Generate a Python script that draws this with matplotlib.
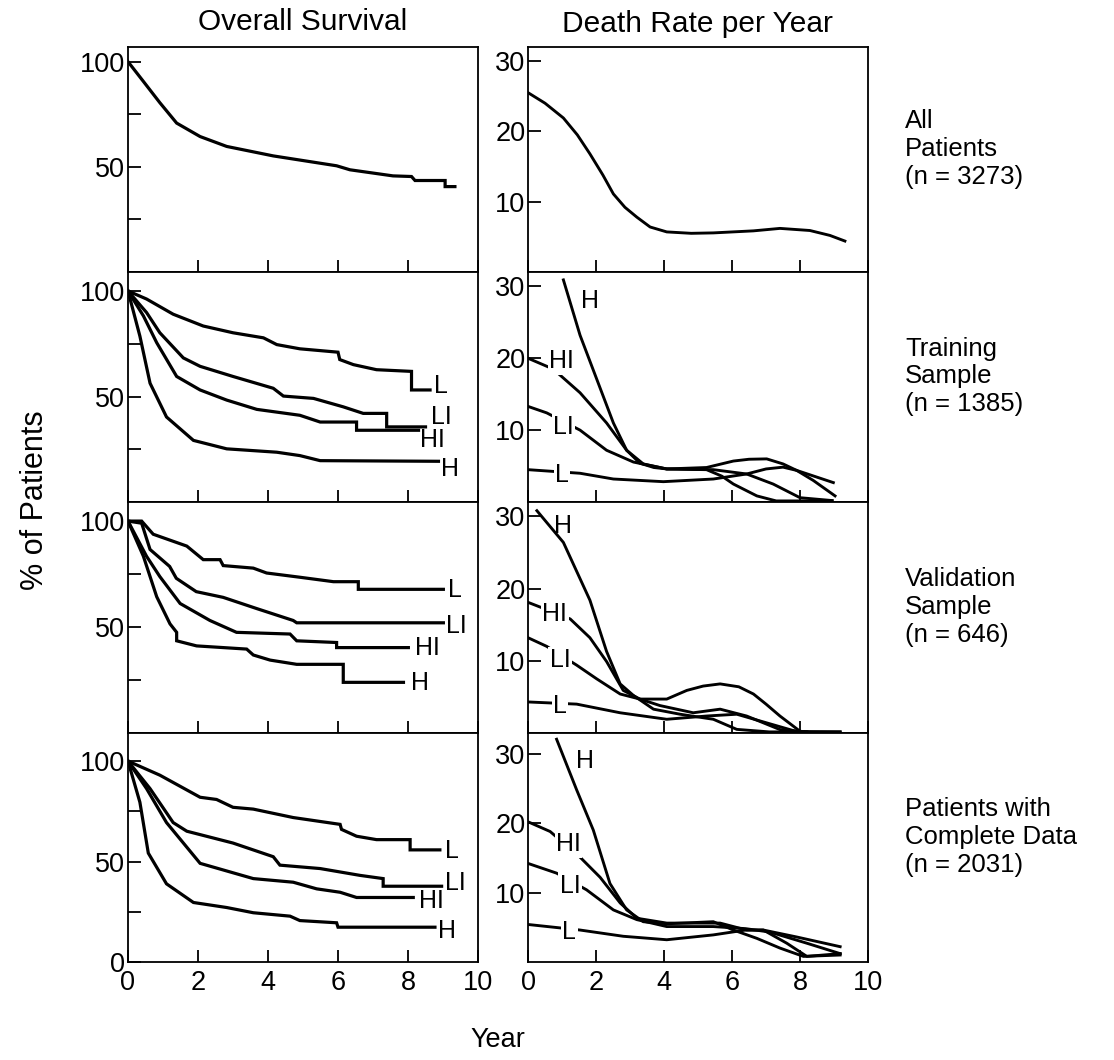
import numpy as np
import matplotlib
matplotlib.use("Agg")
import matplotlib.pyplot as plt

plt.rcParams['font.family'] = ['Liberation Sans', 'DejaVu Sans']

# ---- overall survival (% of patients) : (year, %) ----
all_os = [(0, 100), (0.44, 90.6), (0.91, 80.5), (1.39, 70.8), (2.06, 64.4), (2.82, 59.7),
          (4.15, 55.2), (5.96, 50.5), (6.34, 48.6), (7.57, 45.7), (8.1, 45.4), (8.2, 43.5),
          (9.06, 43.5), (9.06, 40.6), (9.34, 40.6)]

tr_os_L = [(0, 100), (0.53, 96.2), (1.29, 89), (2.15, 83.4), (3.0, 80.2), (3.87, 77.8),
           (4.25, 74.6), (4.91, 72.6), (6.0, 71), (6.05, 67.5), (6.44, 65.1), (7.1, 62.7),
           (8.1, 61.9), (8.1, 53.1), (8.63, 53.1)]
tr_os_LI = [(0, 100), (0.53, 89.8), (0.91, 80.2), (1.58, 68.3), (2.06, 64.3), (3.0, 59.5),
            (4.15, 53.9), (4.44, 50.2), (5.3, 49.1), (6.15, 45.1), (6.72, 42), (7.39, 42),
            (7.39, 35.6), (8.5, 35.6)]
tr_os_HI = [(0, 100), (0.44, 88.2), (0.82, 75.5), (1.39, 59.5), (2.06, 53.1), (2.82, 48.3),
            (3.68, 43.9), (4.91, 41.1), (5.49, 37.9), (6.53, 37.9), (6.53, 34), (8.3, 34)]
tr_os_H = [(0, 100), (0.34, 78.6), (0.63, 56.3), (1.1, 40.3), (1.87, 29.2), (2.82, 25.2),
           (4.25, 23.6), (4.91, 22), (5.49, 19.6), (8.87, 19.3)]

va_os_L = [(0, 100), (0.39, 100), (0.72, 93.8), (1.68, 88.2), (2.15, 81.8), (2.63, 81.8),
           (2.72, 79), (3.58, 77.8), (3.96, 75.5), (4.91, 73.5), (5.87, 71.4), (6.58, 71.4),
           (6.58, 67.8), (9.01, 67.8)]
va_os_LI = [(0, 100), (0.39, 99), (0.63, 86.6), (1.19, 78.6), (1.38, 73), (1.95, 66.7),
            (2.72, 64), (3.68, 58.7), (4.72, 53.1), (4.82, 52), (9.01, 52)]
va_os_HI = [(0, 100), (0.53, 83.4), (0.91, 73.8), (1.49, 61.1), (2.34, 53.1), (3.1, 47.5),
            (4.63, 46.7), (4.82, 43.5), (5.96, 42.7), (5.96, 40.3), (8.01, 40.3)]
va_os_H = [(0, 100), (0.44, 83.4), (0.82, 64.3), (1.2, 51.5), (1.39, 47.5), (1.39, 43.5),
           (1.96, 41.1), (3.39, 39.6), (3.58, 36.8), (4.06, 34.4), (4.82, 32.4), (6.15, 32.4),
           (6.15, 23.9), (7.87, 23.9)]

cd_os_L = [(0, 100), (0.91, 93), (2.06, 82), (2.53, 80.9), (3.0, 77), (3.58, 76.1),
           (4.72, 71.9), (6.06, 68.5), (6.1, 66), (6.53, 62.6), (7.1, 60.9), (8.06, 60.9),
           (8.06, 55.8), (8.91, 55.8)]
cd_os_LI = [(0, 100), (0.63, 86.3), (1.29, 69.4), (1.68, 65.1), (3.0, 59.2), (4.15, 52.4),
            (4.34, 48.2), (5.49, 46.5), (6.63, 43.1), (7.29, 41.5), (7.29, 37.7), (8.96, 37.7)]
cd_os_HI = [(0, 100), (0.53, 86.3), (1.1, 69.4), (2.06, 49.1), (3.58, 41.5), (4.72, 39.7),
            (5.39, 36.4), (6.06, 34.7), (6.53, 32.1), (8.15, 32.1)]
cd_os_H = [(0, 100), (0.34, 79.5), (0.58, 54.2), (1.1, 38.9), (1.87, 29.6), (2.82, 27.1),
           (3.58, 24.5), (4.63, 22.8), (4.91, 20.6), (5.96, 19.5), (6.0, 17.3), (8.77, 17.3)]

# ---- death rate per year : (year, rate) ----
all_dr = [(0, 25.5), (0.5, 24.0), (1.04, 21.9), (1.45, 19.5), (1.82, 16.8), (2.2, 13.8),
          (2.51, 11.1), (2.85, 9.2), (3.2, 7.8), (3.59, 6.4), (4.08, 5.7), (4.8, 5.5),
          (5.45, 5.56), (6.63, 5.85), (7.41, 6.2), (8.29, 5.9), (8.88, 5.2), (9.32, 4.4)]

tr_dr_H = [(1.04, 30.9), (1.53, 23.2), (2.02, 17.1), (2.51, 11), (2.9, 7.2), (3.29, 5.4),
           (3.7, 4.8), (4.08, 4.6), (5.25, 4.5), (5.7, 3.6), (6.04, 2.5), (6.73, 0.85),
           (7.3, 0.15), (8.93, 0.15)]
tr_dr_HI = [(0, 20.0), (0.74, 18.5), (1.53, 15.2), (2.31, 11.0), (2.9, 7.2), (3.39, 5.3),
            (4.08, 4.6), (5.25, 4.8), (6.04, 5.7), (6.5, 5.95), (7.02, 6.0), (7.5, 5.3),
            (7.9, 4.4), (8.98, 2.7)]
tr_dr_LI = [(0, 13.3), (0.55, 12.4), (1.53, 10.0), (2.31, 7.2), (3.1, 5.56), (4.08, 4.6),
            (5.45, 4.5), (6.43, 3.9), (7.21, 2.5), (8.0, 0.6), (8.95, 0.2)]
tr_dr_L = [(0, 4.5), (1.53, 4.0), (2.51, 3.2), (3.98, 2.83), (5.45, 3.2), (6.43, 3.9),
           (7.0, 4.6), (7.5, 4.85), (7.9, 4.4), (8.39, 3.0), (9.03, 0.85)]

va_dr_H = [(0.26, 30.8), (1.04, 26.4), (1.82, 18.4), (2.31, 11.3), (2.71, 6.8), (3.1, 5.2),
           (3.69, 3.3), (4.47, 2.6), (5.45, 1.9), (6.14, 0.5), (7.1, 0.15), (9.18, 0.15)]
va_dr_HI = [(0, 18.1), (0.6, 17.0), (1.24, 15.8), (1.82, 13.2), (2.31, 9.9), (2.8, 5.9),
            (3.29, 4.7), (4.08, 4.7), (4.67, 5.9), (5.15, 6.5), (5.65, 6.8), (6.2, 6.4),
            (6.63, 5.4), (7.0, 4.0), (7.41, 2.35), (8.0, 0.24), (8.2, 0.15)]
va_dr_LI = [(0, 13.2), (0.55, 12.0), (1.43, 9.4), (2.02, 7.5), (2.71, 5.4), (3.29, 4.7),
            (3.88, 3.8), (4.86, 2.8), (5.65, 3.3), (6.43, 2.35), (7.41, 0.47), (8.2, 0.15)]
va_dr_L = [(0, 4.3), (1.43, 4.0), (2.71, 2.8), (4.08, 1.9), (5.25, 2.35), (6.14, 2.6),
           (7.02, 1.4), (7.9, 0.2), (9.18, 0.15)]

cd_dr_H = [(0.84, 32.1), (1.43, 24.8), (1.92, 19.0), (2.41, 11.3), (2.9, 7.5), (3.39, 5.8),
           (4.08, 5.5), (5.45, 5.8), (6.04, 4.6), (6.73, 3.4), (7.41, 2.0), (8.1, 0.8), (9.18, 1.0)]
cd_dr_HI = [(0, 20.2), (0.65, 18.8), (1.53, 15.1), (2.12, 12.2), (2.71, 8.5), (3.2, 6.3),
            (4.08, 5.6), (5.65, 5.6), (6.43, 4.6), (6.92, 4.6), (7.9, 3.6), (9.18, 2.2)]
cd_dr_LI = [(0, 14.2), (0.84, 12.8), (1.72, 10.4), (2.51, 7.5), (3.2, 6.1), (4.08, 5.1),
            (5.45, 5.1), (6.4, 4.8), (7.12, 4.3), (8.2, 2.7), (9.18, 1.2)]
cd_dr_L = [(0, 5.4), (1.53, 4.6), (2.8, 3.7), (4.08, 3.2), (5.45, 3.9), (6.4, 4.6),
           (6.92, 4.6), (7.61, 2.7), (8.2, 0.8), (9.18, 1.2)]

groups = ['L', 'LI', 'HI', 'H']
row_text = ['All\nPatients\n(n = 3273)', 'Training\nSample\n(n = 1385)',
            'Validation\nSample\n(n = 646)', 'Patients with\nComplete Data\n(n = 2031)']

os_rows = [[all_os], [tr_os_L, tr_os_LI, tr_os_HI, tr_os_H],
           [va_os_L, va_os_LI, va_os_HI, va_os_H], [cd_os_L, cd_os_LI, cd_os_HI, cd_os_H]]
dr_rows = [[all_dr], [tr_dr_L, tr_dr_LI, tr_dr_HI, tr_dr_H],
           [va_dr_L, va_dr_LI, va_dr_HI, va_dr_H], [cd_dr_L, cd_dr_LI, cd_dr_HI, cd_dr_H]]

# label positions (year, value) for L, LI, HI, H
os_lab = [None,
          [(8.95, 55.0), (8.95, 40.3), (8.7, 29.2), (9.2, 15.6)],
          [(9.34, 67.5), (9.39, 50.7), (8.55, 40.3), (8.35, 23.6)],
          [(9.25, 55), (9.34, 39.2), (8.68, 30.1), (9.1, 15.2)]]
dr_lab = [None,
          [(1.0, 3.8), (1.04, 10.5), (0.99, 19.6), (1.82, 28)],
          [(0.94, 3.8), (0.94, 10.1), (0.79, 16.5), (1.04, 28.7)],
          [(1.21, 4.3), (1.24, 11.0), (1.19, 17.0), (1.68, 29)]]

os_ymax = [107, 109, 109, 114]
dr_ymax = [32, 32, 32, 33]

fig = plt.figure(figsize=(11.14, 10.6), dpi=100)
bottoms = [0.7434, 0.5264, 0.3085, 0.0925]
heights = [0.2123, 0.217, 0.2179, 0.216]
lw = 2.3
fs_tick = 19.5
fs_lab = 18

for r in range(4):
    axl = fig.add_axes([0.1149, bottoms[r], 0.3142, heights[r]])
    axr = fig.add_axes([0.474, bottoms[r], 0.3052, heights[r]])
    for ax in (axl, axr):
        for s in ax.spines.values():
            s.set_linewidth(1.3)
        ax.set_xlim(0, 10)
        ax.set_xticks([0, 2, 4, 6, 8, 10])
        ax.tick_params(direction='in', length=9, width=1.3, labelsize=fs_tick, pad=6)
        if r < 3:
            ax.set_xticklabels([])
    # overall survival
    for i, curve in enumerate(os_rows[r]):
        xy = np.array(curve)
        axl.plot(xy[:, 0], xy[:, 1], color='black', lw=lw, solid_joinstyle='miter')
        if os_lab[r] is not None:
            axl.text(os_lab[r][i][0], os_lab[r][i][1], groups[i], fontsize=fs_lab,
                     ha='center', va='center')
    axl.set_ylim(0, os_ymax[r])
    axl.set_yticks([0, 25, 50, 75, 100])
    axl.set_yticklabels(['0' if r == 3 else '', '', '50', '', '100'])
    axl.tick_params(axis='y', pad=2)
    # death rate
    for i, curve in enumerate(dr_rows[r]):
        xy = np.array(curve)
        axr.plot(xy[:, 0], xy[:, 1], color='black', lw=lw * 0.9)
        if dr_lab[r] is not None:
            bb = None if groups[i] == 'H' else dict(facecolor='white', edgecolor='none', pad=1)
            axr.text(dr_lab[r][i][0], dr_lab[r][i][1], groups[i], fontsize=fs_lab,
                     ha='center', va='center', bbox=bb, zorder=5)
    axr.set_ylim(0, dr_ymax[r])
    axr.set_yticks([10, 20, 30])
    axr.tick_params(axis='y', pad=2)
    fig.text(0.8124, bottoms[r] + heights[r] / 2 + 0.01, row_text[r], fontsize=18.5,
             ha='left', va='center', linespacing=1.2)

fig.text(0.272, 0.979, 'Overall Survival', fontsize=21.5, ha='center', va='center')
fig.text(0.6257, 0.977, 'Death Rate per Year', fontsize=21.5, ha='center', va='center')
fig.text(0.031, 0.528, '% of Patients', fontsize=22, rotation=90, ha='center', va='center')
fig.text(0.447, 0.019, 'Year', fontsize=19.5, ha='center', va='center')

fig.savefig('out.png', dpi=100)
